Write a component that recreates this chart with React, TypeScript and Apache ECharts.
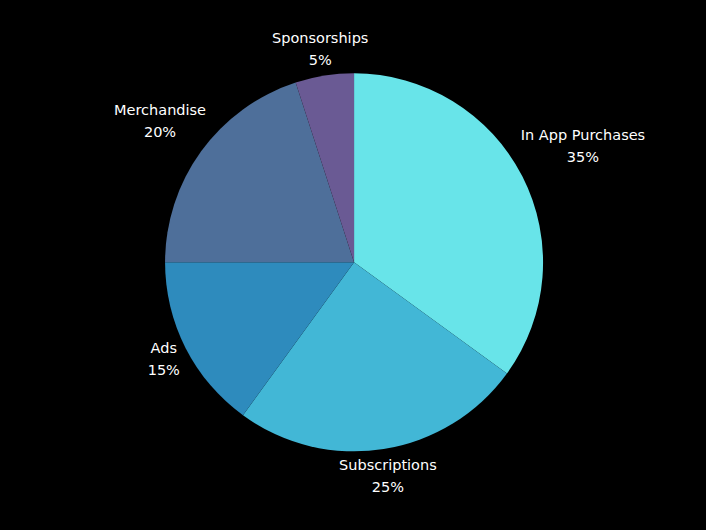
import React, { useEffect, useRef } from 'react';
import * as echarts from 'echarts';

const categories = ['In App Purchases', 'Subscriptions', 'Ads', 'Merchandise', 'Sponsorships'];
const values = [35, 25, 15, 20, 5];
const colors = ['#68e4e9', '#42b7d6', '#2e8bbd', '#4e6f9a', '#6a5a94'];

export default function App() {
  const ref = useRef<HTMLDivElement>(null);
  useEffect(() => {
    document.body.style.margin = '0';
    const chart = echarts.init(ref.current!, null, { renderer: 'svg' });
    const cxPct = 50.15;
    const cyPct = 49.5;
    const R = 189;
    const total = values.reduce((a, b) => a + b, 0);
    const mids: number[] = [];
    let acc = 0;
    values.forEach((v) => {
      mids.push(((acc + v / 2) / total) * 2 * Math.PI);
      acc += v;
    });
    chart.setOption({
      animation: false,
      backgroundColor: '#000000',
      series: [
        {
          type: 'pie',
          center: [cxPct + '%', cyPct + '%'],
          radius: R,
          startAngle: 90,
          clockwise: true,
          data: categories.map((c, i) => ({ name: c, value: values[i], itemStyle: { color: colors[i] } })),
          label: {
            show: true,
            position: 'outside',
            color: '#ffffff',
            fontFamily: 'DejaVu Sans',
            fontSize: 14.5,
            lineHeight: 22,
            align: 'center',
            formatter: (p: any) => `${p.name}\n${p.percent}%`,
          },
          labelLine: { show: false },
          emphasis: { disabled: true },
          labelLayout: (p: any) => {
            const a = mids[p.dataIndex];
            const ux = Math.sin(a);
            const uy = -Math.cos(a);
            const pad = 12;
            const hw = p.labelRect.width / 2 + pad;
            const hh = p.labelRect.height / 2 + pad;
            const t = Math.min(
              Math.abs(ux) > 1e-6 ? hw / Math.abs(ux) : Infinity,
              Math.abs(uy) > 1e-6 ? hh / Math.abs(uy) : Infinity
            );
            const d = R - 7 + t;
            const cx = (chart.getWidth() * cxPct) / 100;
            const cy = (chart.getHeight() * cyPct) / 100;
            return { x: cx + ux * d, y: cy + uy * d, align: 'center', verticalAlign: 'middle' };
          },
        },
      ],
    });
    return () => chart.dispose();
  }, []);
  return <div ref={ref} style={{ width: 706, height: 530 }} />;
}
